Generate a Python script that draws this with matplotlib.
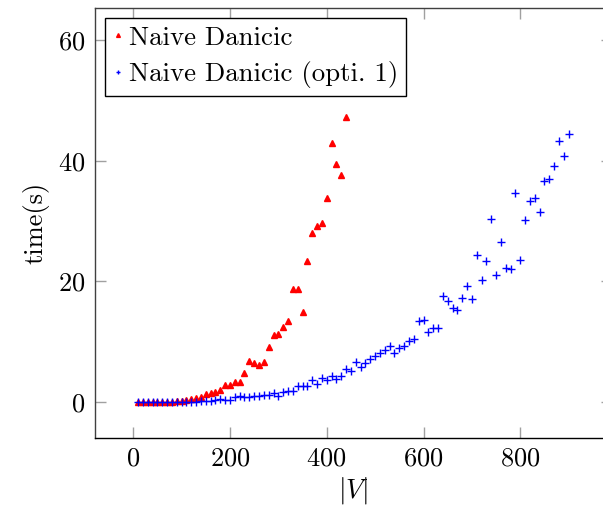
import numpy as np
import matplotlib.pyplot as plt

plt.rcParams['font.family'] = 'cmr10'
plt.rcParams['mathtext.fontset'] = 'cm'
plt.rcParams['axes.formatter.use_mathtext'] = True

# Naive Danicic, |V| = 10..440
x_naive = list(range(10, 450, 10))
t_naive = [0.0, 0.0, 0.0, 0.01, 0.02, 0.03, 0.05, 0.08, 0.15, 0.25,
           0.4, 0.45, 0.66, 0.83, 1.3, 1.44, 1.7, 2.0, 2.8, 2.8,
           3.4, 3.4, 4.9, 6.85, 6.4, 6.2, 6.7, 9.2, 11.1, 11.2,
           12.4, 13.5, 18.7, 18.7, 14.9, 23.4, 28.1, 29.1, 29.6, 33.8,
           43.0, 39.4, 37.7, 47.2]

# Naive Danicic (opti. 1), |V| = 10..900
x_opti = list(range(10, 910, 10))
t_opti = [0.0, 0.0, 0.0, 0.0, 0.01, 0.01, 0.02, 0.02, 0.03, 0.04,
          0.05, 0.06, 0.08, 0.1, 0.11, 0.22, 0.39, 0.5, 0.39, 0.39,
          0.77, 0.94, 0.77, 0.77, 0.94, 0.94, 1.1, 1.2, 1.5, 1.05,
          1.66, 1.88, 1.88, 2.6, 2.6, 2.6, 3.7, 3.04, 4.0, 3.6,
          4.4, 3.8, 4.4, 5.5, 5.1, 6.6, 5.8, 6.5, 7.1, 7.7,
          8.1, 8.6, 9.3, 8.2, 9.0, 9.3, 10.2, 10.5, 13.4, 13.6,
          11.6, 12.3, 12.3, 17.5, 16.8, 15.6, 15.2, 17.2, 19.3, 17.1,
          24.4, 20.2, 23.3, 30.3, 21.1, 26.5, 22.3, 22.1, 34.6, 23.5,
          30.2, 33.3, 33.8, 31.5, 36.6, 36.9, 39.2, 43.2, 40.7, 44.4]

fig = plt.figure(figsize=(6.03, 5.11), dpi=100)
ax = fig.add_axes([0.1575, 0.1423, 0.857, 0.842])

ax.plot(x_naive, t_naive, '^', color='red', markersize=5, linestyle='none',
        label='Naive Danicic')
ax.plot(x_opti, t_opti, '+', color='blue', markersize=5.5, markeredgewidth=1,
        linestyle='none', label='Naive Danicic (opti. 1)')

ax.set_xlim(-79, 989)
ax.set_ylim(-6.0, 65.3)
ax.set_xticks([0, 200, 400, 600, 800])
ax.set_yticks([0, 20, 40, 60])

ax.tick_params(direction='in', length=7.9, width=1, color='#a0a0a0',
               labelsize=19, top=True, right=True)
ax.tick_params(axis='y', pad=7)
ax.tick_params(axis='x', pad=6)
for s in ax.spines.values():
    s.set_color('#404040')
    s.set_linewidth(1)
ax.spines['bottom'].set_color('black')

ax.set_xlabel(r'$|V|$', fontsize=19.5, labelpad=3)
ax.set_ylabel('time(s)', fontsize=19, labelpad=6)

leg = ax.legend(loc='upper left', bbox_to_anchor=(0.0, 1.0), fontsize=19.3,
                fancybox=False, edgecolor='black', framealpha=1,
                handlelength=0.4, handletextpad=0.2, borderpad=0.3,
                labelspacing=0.42, markerscale=0.55, numpoints=1,
                borderaxespad=0.37)
leg.get_frame().set_linewidth(1)

fig.savefig('out.png', dpi=100)
